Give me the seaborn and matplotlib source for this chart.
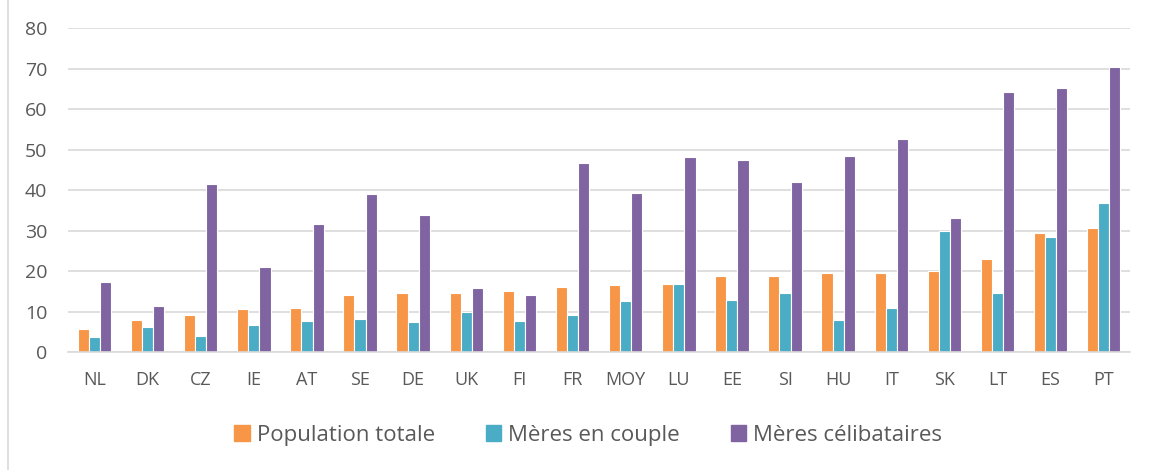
import seaborn as sns
import pandas as pd
import matplotlib.pyplot as plt
from matplotlib.lines import Line2D

pays = ["NL", "DK", "CZ", "IE", "AT", "SE", "DE", "UK", "FI", "FR", "MOY",
        "LU", "EE", "SI", "HU", "IT", "SK", "LT", "ES", "PT"]
population_totale = [5.7, 8.0, 9.1, 10.7, 10.9, 14.1, 14.5, 14.5, 15.2, 16.1, 16.6,
                     16.8, 18.7, 18.9, 19.6, 19.6, 19.9, 23.0, 29.5, 30.7]
meres_couple = [3.7, 6.3, 3.9, 6.7, 7.7, 8.2, 7.3, 9.8, 7.7, 9.1, 12.7,
                16.8, 12.9, 14.5, 8.0, 10.8, 30.0, 14.5, 28.4, 36.8]
meres_celib = [17.3, 11.4, 41.4, 21.0, 31.6, 39.1, 33.8, 15.9, 14.2, 46.8, 39.2,
               48.1, 47.5, 41.9, 48.5, 52.6, 33.0, 64.2, 65.2, 70.3]
series = ["Population totale", "Mères en couple", "Mères célibataires"]
couleurs = ["#F79646", "#4BACC6", "#8064A2"]

df = pd.DataFrame({"pays": pays, series[0]: population_totale,
                   series[1]: meres_couple, series[2]: meres_celib})
df = df.melt(id_vars="pays", var_name="serie", value_name="valeur")

sns.set_style("white")
plt.rcParams["font.family"] = ["Open Sans", "DejaVu Sans"]

fig = plt.figure(figsize=(11.51, 4.70), dpi=100)
ax = fig.add_axes([0.059, 0.251, 0.923, 0.689])

sns.barplot(data=df, x="pays", y="valeur", hue="serie", hue_order=series,
            palette=couleurs, saturation=1, width=0.63, edgecolor="white",
            linewidth=0.8, ax=ax, legend=True)

ax.set_ylim(0, 80)
ax.set_yticks(range(0, 81, 10))
ax.set_xlim(-0.5, len(pays) - 0.5)
ax.yaxis.grid(True, color="#D9D9D9", linewidth=1.2)
ax.set_axisbelow(True)
for s in ["left", "right", "top"]:
    ax.spines[s].set_visible(False)
ax.spines["bottom"].set_color("#D9D9D9")
ax.spines["bottom"].set_linewidth(1.2)
ax.tick_params(axis="both", length=0, colors="#595959")
ax.tick_params(axis="y", labelsize=14, pad=15)
ax.tick_params(axis="x", labelsize=13, pad=14)
ax.set_xlabel("")
ax.set_ylabel("")

ax.legend_.remove()
handles = [plt.Rectangle((0, 0), 1, 1, color=c) for c in couleurs]
leg = fig.legend(handles, series, loc="center", bbox_to_anchor=(0.511, 0.074),
                 ncol=3, frameon=False, fontsize=16, handlelength=0.7,
                 handleheight=0.7, handletextpad=0.3, columnspacing=2.3)
for t in leg.get_texts():
    t.set_color("#595959")

fig.add_artist(Line2D([0.007, 0.007], [0.0, 1.0], color="#D9D9D9", linewidth=1.2))

fig.savefig("out.png", dpi=100)
